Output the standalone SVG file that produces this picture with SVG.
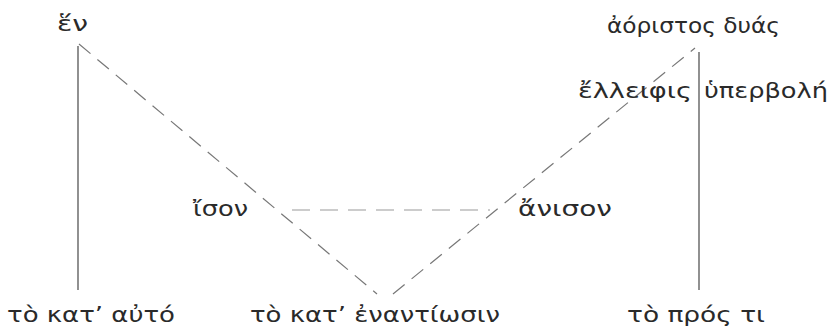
<svg xmlns="http://www.w3.org/2000/svg" width="837" height="328" viewBox="0 0 837 328">
<style>
text{font-family:"DejaVu Sans","Noto Sans",sans-serif;font-size:21px;fill:#2a2a2a}
.solid{stroke:#555;stroke-width:1.3;fill:none}
.dash{stroke:#777;stroke-width:1.2;fill:none;stroke-dasharray:15 9}
.dash-h{stroke:#999;stroke-width:1.1;fill:none;stroke-dasharray:18 10}
</style>
<rect width="837" height="328" fill="#fff"/>
<g id="connectors">
<line class="solid" x1="78" y1="46" x2="78" y2="290"/>
<line class="solid" x1="699" y1="52" x2="699" y2="290"/>
<line class="dash" x1="79" y1="44" x2="377" y2="294"/>
<line class="dash" x1="393" y1="294" x2="695" y2="48"/>
<line class="dash-h" x1="292" y1="210" x2="490" y2="210"/>
</g>
<g id="hen"><text x="57" y="31" textLength="31" lengthAdjust="spacingAndGlyphs">ἕν</text></g>
<g id="aoristos"><text x="607" y="33" textLength="173" lengthAdjust="spacingAndGlyphs">ἀόριστος δυάς</text></g>
<g id="elleipsis"><text x="578" y="98" textLength="114" lengthAdjust="spacingAndGlyphs">ἔλλειφις</text></g>
<g id="hyperbole"><text x="704" y="98" textLength="124" lengthAdjust="spacingAndGlyphs">ὑπερβολή</text></g>
<g id="ison"><text x="193" y="216" textLength="55" lengthAdjust="spacingAndGlyphs">ἴσον</text></g>
<g id="anison"><text x="518" y="216" textLength="94" lengthAdjust="spacingAndGlyphs">ἄνισον</text></g>
<g id="kat-auto"><text x="7" y="322" textLength="168" lengthAdjust="spacingAndGlyphs">τὸ κατ’ αὐτό</text></g>
<g id="kat-enantiosin"><text x="250" y="322" textLength="250" lengthAdjust="spacingAndGlyphs">τὸ κατ’ ἐναντίωσιν</text></g>
<g id="pros-ti"><text x="627" y="322" textLength="138" lengthAdjust="spacingAndGlyphs">τὸ πρός τι</text></g>
</svg>
